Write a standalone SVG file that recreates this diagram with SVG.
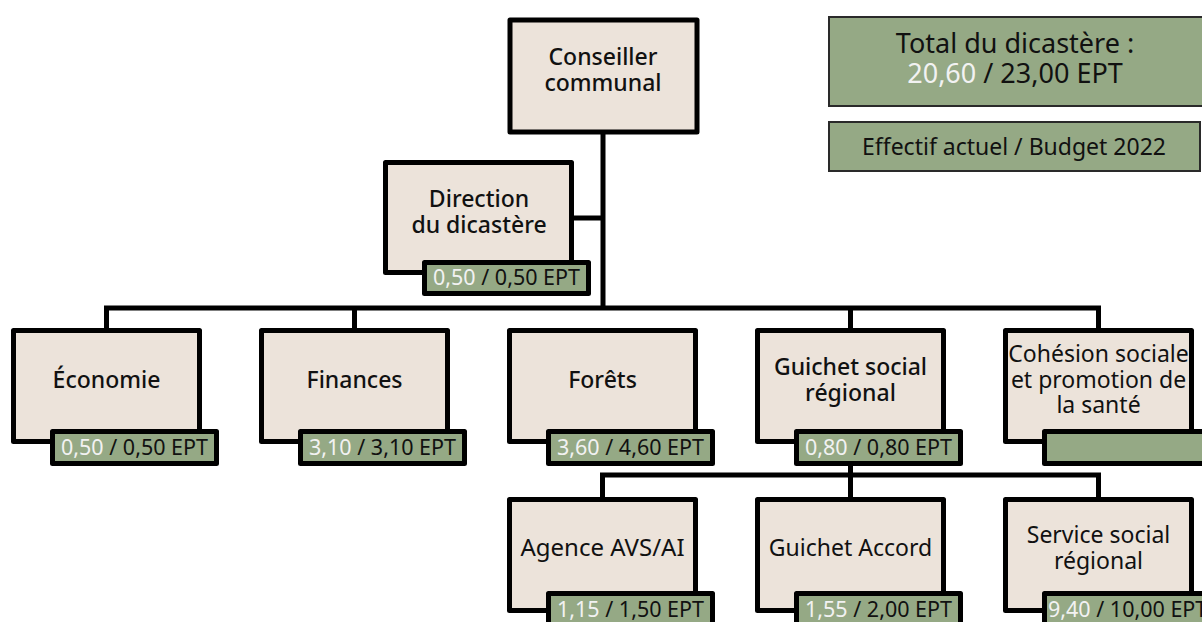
<svg xmlns="http://www.w3.org/2000/svg" width="1202" height="622" viewBox="0 0 1202 622">
<style>
.box{fill:#ECE3DA;stroke:#000;stroke-width:5;stroke-linejoin:round}
.badge{fill:#95A985;stroke:#000;stroke-width:5;stroke-linejoin:round}
.info{fill:#95A985;stroke:#2a2a2a;stroke-width:2}
.conn{fill:none;stroke:#000;stroke-width:5}
text{font-family:"Noto Sans","Liberation Sans",sans-serif;fill:#111;text-anchor:middle}
.t{font-size:23px;font-weight:500}
.l{font-size:23px}
.b{font-size:21.5px}
.w{fill:#F2F2F2}
</style>
<rect width="1202" height="622" fill="#fff"/>
<g id="connectors">
<path class="conn" d="M603 132V308M573 218H603M106.5 328V308H1098.5V328M354.5 308V328M850.5 308V328M850.5 464V497M602.5 497V475H1098.5V497"/>
</g>
<g id="legend-total">
<rect class="info" x="829" y="17" width="380" height="89"/>
<text x="1015" y="53" style="font-size:27px">Total du dicastère :</text>
<text x="1015" y="83" style="font-size:27px"><tspan class="w">20,60</tspan> / 23,00 EPT</text>
</g>
<g id="legend-effectif">
<rect class="info" x="829" y="122" width="371" height="49"/>
<text x="1014" y="155" style="font-size:23px">Effectif actuel / Budget 2022</text>
</g>
<g id="conseiller">
<rect class="box" x="510" y="20" width="187" height="112"/>
<text class="t" x="603" y="65">Conseiller</text>
<text class="t" x="603" y="91">communal</text>
</g>
<g id="direction">
<rect class="box" x="385.5" y="162.5" width="186" height="110"/>
<text class="t" x="479" y="207">Direction</text>
<text class="t" x="479" y="233">du dicastère</text>
<rect class="badge" x="424.5" y="262.5" width="164" height="31"/>
<text class="b" x="506.5" y="285"><tspan class="w">0,50</tspan> / 0,50 EPT</text>
</g>
<g id="economie">
<rect class="box" x="13.5" y="330.5" width="186" height="111"/>
<text class="t" x="106.5" y="388">Économie</text>
<rect class="badge" x="52.5" y="431.5" width="164" height="32"/>
<text class="b" x="134.5" y="455"><tspan class="w">0,50</tspan> / 0,50 EPT</text>
</g>
<g id="finances">
<rect class="box" x="261.5" y="330.5" width="186" height="111"/>
<text class="t" x="354.5" y="388">Finances</text>
<rect class="badge" x="300.5" y="431.5" width="164" height="32"/>
<text class="b" x="382.5" y="455"><tspan class="w">3,10</tspan> / 3,10 EPT</text>
</g>
<g id="forets">
<rect class="box" x="509.5" y="330.5" width="186" height="111"/>
<text class="t" x="602.5" y="388">Forêts</text>
<rect class="badge" x="548.5" y="431.5" width="164" height="32"/>
<text class="b" x="630.5" y="455"><tspan class="w">3,60</tspan> / 4,60 EPT</text>
</g>
<g id="guichet-social">
<rect class="box" x="757.5" y="330.5" width="186" height="111"/>
<text class="t" x="850.5" y="375">Guichet social</text>
<text class="t" x="850.5" y="401">régional</text>
<rect class="badge" x="796.5" y="431.5" width="164" height="32"/>
<text class="b" x="878.5" y="455"><tspan class="w">0,80</tspan> / 0,80 EPT</text>
</g>
<g id="cohesion">
<rect class="box" x="1005.5" y="330.5" width="186" height="111"/>
<text class="l" x="1098.5" y="362">Cohésion sociale</text>
<text class="l" x="1098.5" y="388">et promotion de</text>
<text class="l" x="1098.5" y="413">la santé</text>
<rect class="badge" x="1044.5" y="431.5" width="164" height="32"/>
</g>
<g id="agence">
<rect class="box" x="509.5" y="499.5" width="186" height="111"/>
<text class="l" x="602.5" y="556" style="font-size:24px">Agence AVS/AI</text>
<rect class="badge" x="548.5" y="593.5" width="164" height="34"/>
<text class="b" x="630.5" y="617"><tspan class="w">1,15</tspan> / 1,50 EPT</text>
</g>
<g id="guichet-accord">
<rect class="box" x="757.5" y="499.5" width="186" height="111"/>
<text class="l" x="850.5" y="556">Guichet Accord</text>
<rect class="badge" x="796.5" y="593.5" width="164" height="34"/>
<text class="b" x="878.5" y="617"><tspan class="w">1,55</tspan> / 2,00 EPT</text>
</g>
<g id="service-social">
<rect class="box" x="1005.5" y="499.5" width="186" height="111"/>
<text class="l" x="1098.5" y="543">Service social</text>
<text class="l" x="1098.5" y="569">régional</text>
<rect class="badge" x="1044.5" y="593.5" width="164" height="34"/>
<text class="b" x="1048" y="617" style="text-anchor:start"><tspan class="w">9,40</tspan> / 10,00 EPT</text>
</g>
</svg>
